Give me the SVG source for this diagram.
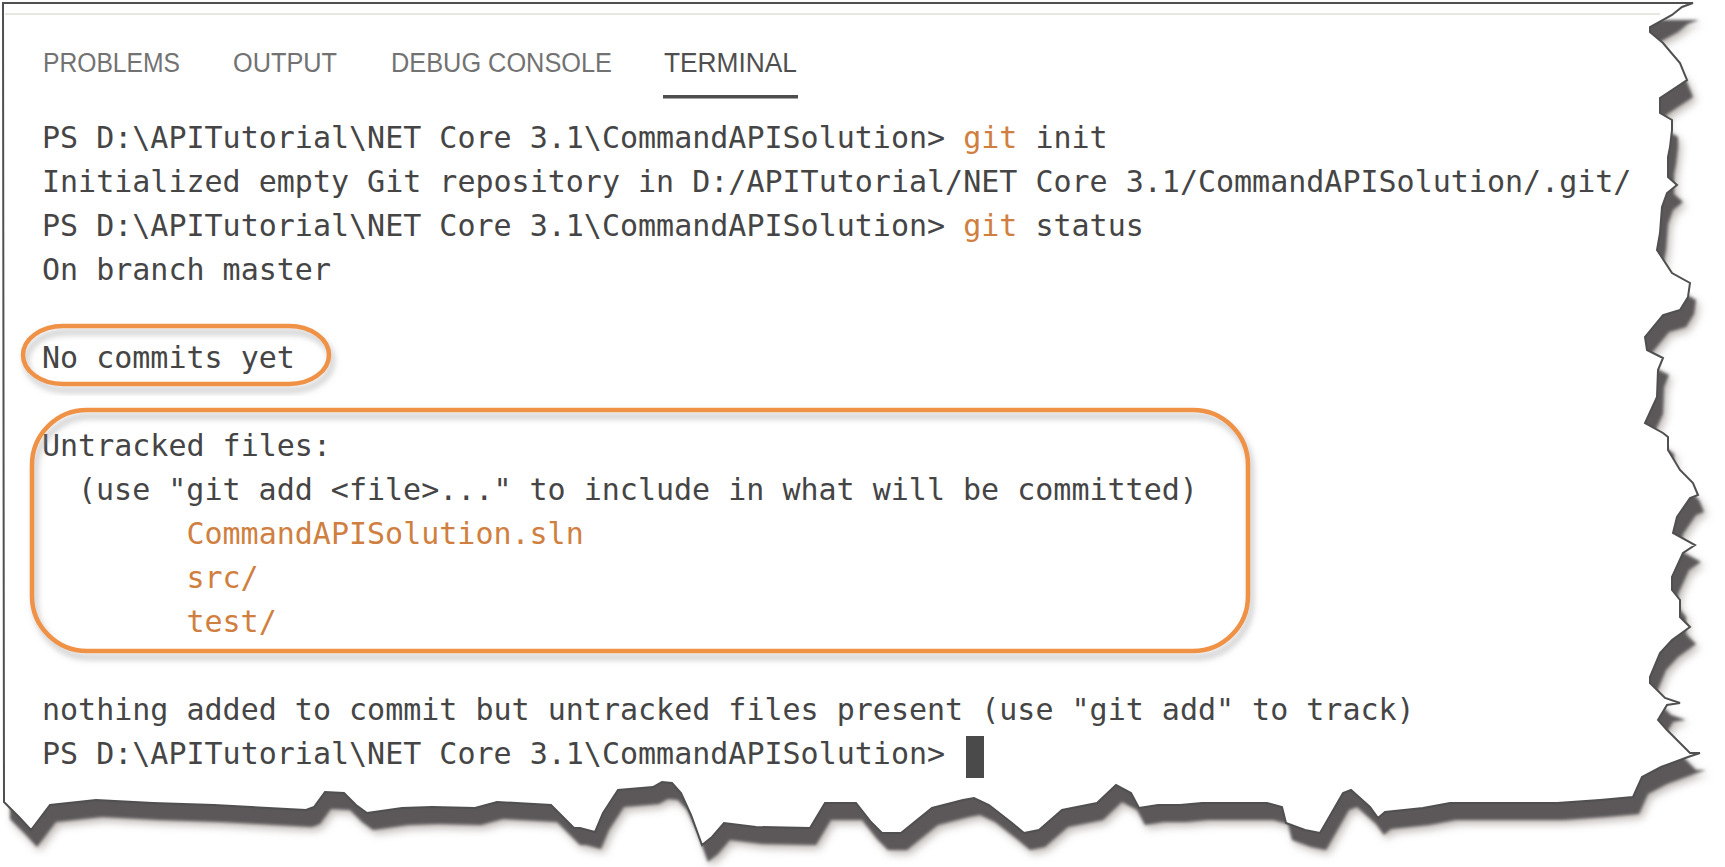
<svg xmlns="http://www.w3.org/2000/svg" xmlns:xlink="http://www.w3.org/1999/xlink" width="1725" height="867" viewBox="0 0 1725 867">
<style>
.tab{font-family:"Liberation Sans","Open Sans",sans-serif;font-size:27px;fill:#727272}
.tab.on{fill:#4f4f4f}
.term{font-family:"DejaVu Sans Mono","Liberation Mono",monospace;font-size:30px;fill:#454545}
.or{fill:#cf8040}
.hl{fill:none;stroke:#ef9245;stroke-width:4.5}
</style>
<defs>
<path id="paper" d="M3,3 L1693,3 L1682,7 L1672,15 L1650,27 L1650,32 L1663,43 L1680,63 L1687,80 L1672,90 L1660,98 L1660,113 L1672,120 L1672,130 L1670,147 L1668,157 L1668,177 L1677,185 L1667,193 L1662,207 L1660,233 L1657,250 L1672,273 L1690,283 L1688,297 L1680,310 L1663,315 L1645,337 L1647,350 L1663,358 L1658,370 L1657,397 L1645,423 L1663,433 L1668,437 L1668,450 L1680,470 L1693,483 L1698,495 L1690,498 L1677,517 L1673,533 L1695,545 L1683,553 L1672,577 L1672,590 L1680,600 L1680,617 L1690,627 L1672,640 L1660,653 L1650,677 L1650,683 L1665,698 L1680,703 L1667,705 L1658,720 L1667,730 L1690,753 L1700,753 L1688,757 L1661,767 L1642,777 L1633,797 L1600,800 L1557,803 L1450,803 L1423,808 L1385,812 L1378,818 L1370,807 L1351,790 L1343,793 L1320,833 L1305,830 L1286,823 L1282,807 L1267,803 L1202,803 L1180,805 L1158,805 L1139,808 L1131,793 L1116,785 L1097,803 L1062,810 L1039,830 L1024,833 L1012,823 L989,805 L974,798 L963,800 L932,808 L917,820 L901,833 L882,833 L871,822 L856,803 L825,803 L810,828 L756,827 L724,823 L712,837 L702,845 L691,815 L681,793 L672,783 L662,782 L653,787 L618,790 L603,813 L595,832 L580,828 L574,828 L559,813 L551,805 L497,802 L475,808 L432,807 L402,808 L367,813 L356,805 L344,793 L325,792 L314,807 L306,810 L214,805 L153,803 L96,800 L50,805 L31,830 L19,817 L4,802 Z"/>
<filter id="blurDark" x="-5%" y="-5%" width="110%" height="115%"><feGaussianBlur stdDeviation="1.8"/></filter>
<filter id="blurHalo" x="-5%" y="-5%" width="110%" height="115%"><feGaussianBlur stdDeviation="4"/></filter>
<filter id="hlShadow" x="-10%" y="-20%" width="120%" height="140%"><feDropShadow dx="3" dy="6" stdDeviation="3" flood-color="#8a8a8a" flood-opacity="0.55"/></filter>
</defs>
<rect width="1725" height="867" fill="#ffffff"/>
<g id="paper-sheet">
<use xlink:href="#paper" transform="translate(9,21)" fill="#bdb7b3" filter="url(#blurHalo)"/>
<use xlink:href="#paper" transform="translate(6,17)" fill="#5b595a" filter="url(#blurDark)"/>
<use xlink:href="#paper" fill="#ffffff" stroke="#505050" stroke-width="2"/>
<line x1="5" y1="14" x2="1660" y2="14" stroke="#e2dcd6" stroke-width="1.5"/>
</g>
<g id="tabs">
<text class="tab" x="43" y="72" textLength="137" lengthAdjust="spacingAndGlyphs">PROBLEMS</text>
<text class="tab" x="233" y="72" textLength="104" lengthAdjust="spacingAndGlyphs">OUTPUT</text>
<text class="tab" x="391" y="72" textLength="221" lengthAdjust="spacingAndGlyphs">DEBUG CONSOLE</text>
<text class="tab on" x="664" y="72" textLength="133" lengthAdjust="spacingAndGlyphs">TERMINAL</text>
<rect x="663" y="95" width="135" height="3.5" fill="#4d4d4d"/>
</g>
<g id="terminal">
<text class="term" x="42" y="148">PS D:\APITutorial\NET Core 3.1\CommandAPISolution&gt; <tspan class="or">git</tspan> init</text>
<text class="term" x="42" y="192">Initialized empty Git repository in D:/APITutorial/NET Core 3.1/CommandAPISolution/.git/</text>
<text class="term" x="42" y="236">PS D:\APITutorial\NET Core 3.1\CommandAPISolution&gt; <tspan class="or">git</tspan> status</text>
<text class="term" x="42" y="280">On branch master</text>
<text class="term" x="42" y="368">No commits yet</text>
<text class="term" x="42" y="456">Untracked files:</text>
<text class="term" x="78" y="500">(use "git add &lt;file&gt;..." to include in what will be committed)</text>
<text class="term or" x="186.4" y="544">CommandAPISolution.sln</text>
<text class="term or" x="186.4" y="588">src/</text>
<text class="term or" x="186.4" y="632">test/</text>
<text class="term" x="42" y="720">nothing added to commit but untracked files present (use "git add" to track)</text>
<text class="term" x="42" y="764">PS D:\APITutorial\NET Core 3.1\CommandAPISolution&gt;</text>
<rect id="cursor" x="966" y="736" width="18" height="42" fill="#4a4a4a"/>
</g>
<g id="highlights">
<rect id="hl-commits" class="hl" x="23" y="326" width="306" height="58" rx="40" ry="29" filter="url(#hlShadow)"/>
<rect id="hl-untracked" class="hl" x="32" y="410" width="1216" height="241" rx="55" ry="55" filter="url(#hlShadow)"/>
</g>
</svg>
